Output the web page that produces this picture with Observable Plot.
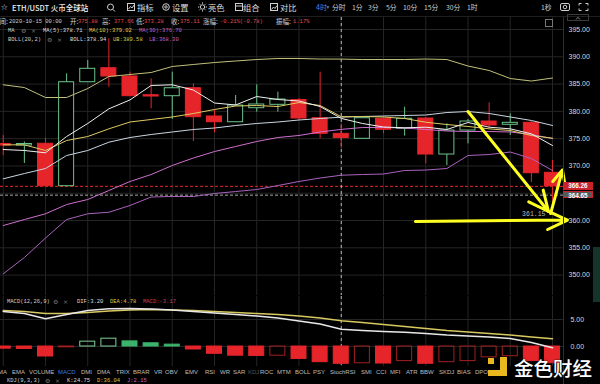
<!DOCTYPE html>
<html><head><meta charset="utf-8">
<script src="https://cdn.jsdelivr.net/npm/d3@7"></script>
<script src="https://cdn.jsdelivr.net/npm/@observablehq/plot@0.6"></script>
<style>
html,body{margin:0;padding:0;background:#000;}
#wrap{position:relative;width:600px;height:384px;overflow:hidden;background:#000;}
.t{position:absolute;white-space:nowrap;line-height:1;}
</style></head><body><div id="wrap"></div>
<script>
// ---- data (4h ETH/USDT candles) ----
const opens  = [374.02,373.74,374.06,366.29,385.34,387.91,386.39,382.96,382.78,384.24,379.06,378.01,380.58,381.20,382.08,378.75,375.88,374.97,378.64,376.80,378.69,372.09,376.49,378.14,377.54,377.90,368.74];
const highs  = [375.58,374.39,375.08,386.88,389.32,393.30,387.18,385.97,387.18,385.05,380.16,382.91,384.87,383.51,382.36,387.18,377.66,378.87,378.93,380.76,378.87,377.72,378.51,381.57,379.55,378.14,371.00];
const lows   = [371.91,370.45,366.23,366.29,385.34,384.43,382.72,380.47,378.51,374.48,376.07,378.01,379.85,379.85,378.33,374.97,373.28,374.84,375.89,375.45,370.39,370.08,374.06,376.80,375.58,366.96,361.15];
const closes = [373.74,374.02,366.29,385.34,387.80,386.39,382.78,382.72,384.24,378.93,378.01,381.07,381.26,382.17,378.69,375.89,375.11,378.75,376.62,378.64,372.09,376.49,378.14,377.41,377.90,368.67,366.26];
const ma5  = [373.01,372.83,372.41,375.39,377.78,380.47,382.10,384.74,384.87,383.91,381.53,381.17,382.72,382.17,381.90,380.89,378.71,377.78,377.13,376.99,377.10,376.68,377.96,377.10,376.80,375.89,373.74];
const ma10 = [373.87,373.87,372.83,374.66,375.39,376.80,378.05,378.51,378.97,379.61,380.34,380.98,381.07,380.89,381.62,381.07,379.02,379.06,378.97,378.69,378.01,377.59,377.23,376.80,376.49,375.58,375.08];
const ma30 = [359.08,360.18,361.23,362.93,363.85,365.50,367.15,368.43,370.08,371.45,372.64,373.56,374.48,375.21,375.58,376.22,376.70,377.04,377.04,376.95,376.68,376.40,376.31,376.31,376.22,375.76,375.03];
const bollMid   = [367.64,368.61,369.53,371.91,372.83,374.35,375.21,375.76,376.22,376.68,376.95,377.41,377.78,378.05,378.42,378.69,378.94,379.06,379.15,379.24,379.33,379.79,379.97,379.61,378.97,378.33,377.41];
const bollUpper = [384.87,384.37,382.54,382.54,384.19,386.39,386.75,387.12,388.22,388.59,388.95,389.23,389.50,389.69,389.69,389.59,389.58,389.50,389.50,389.50,389.59,389.50,388.31,387.49,386.02,385.56,386.11];
const bollLower = [350.23,353.22,356.79,360.18,361.23,361.52,362.75,364.31,364.40,364.40,364.95,365.31,365.68,366.41,367.15,367.79,368.30,368.43,368.52,369.16,369.25,369.53,371.91,372.09,372.55,371.36,369.16];
const dif = [6.48,6.11,5.13,5.93,6.67,6.98,7.04,6.94,6.76,6.48,6.20,5.93,5.65,5.28,4.72,4.17,3.20,2.96,2.78,2.65,2.41,2.13,1.94,1.76,1.48,0.74,-0.24];
const dea = [6.67,6.48,6.11,6.11,6.30,6.57,6.76,6.85,6.76,6.67,6.48,6.30,6.11,5.93,5.65,5.28,4.78,4.44,4.07,3.70,3.33,2.96,2.69,2.41,2.13,1.76,1.43];
const macdHist = [-0.40,-0.45,-1.85,-0.15,0.90,1.45,0.95,0.60,0.35,-0.55,-1.35,-1.70,-1.75,-1.70,-2.30,-2.90,-3.20,-3.10,-3.15,-2.70,-3.20,-2.90,-2.70,-2.00,-1.80,-2.70,-3.10];
const priceTicks = [350,355,360,365,370,375,380,385,390,395];
const macdTicks = [0,5];
const lastPrice = 366.26, crossPrice = 364.65, crossIndex = 16, lowMark = 361.15;
// annotation arrows (candle index, price)
const arrowFrom = [[22,379.97],[25.91,361.28],[19.51,359.82]];
const arrowTo   = [[25.81,361.65],[26.47,369.25],[26.71,360.09]];

// ---- style ----
const RED = "#e5252a", GREEN = "#6cc48a", GREEN2 = "#3cb36c", GRID = "#252525";
const MONO = '"Liberation Mono","DejaVu Sans Mono",monospace';
const SANS = '"Liberation Sans",Arial,sans-serif';
const CJK = '"Noto Sans CJK SC",sans-serif';
const wrap = document.getElementById("wrap");

const N = closes.length, idx = d3.range(N);
const half = 0.355;
const gridIdx = idx.filter(i => i % 2 === 0);
const candles = idx.map(i => ({i, open: opens[i], high: highs[i], low: lows[i], close: closes[i], up: closes[i] >= opens[i]}));
const xDomain = [-0.13, 26.52];
const svgStyle = top => ({position: "absolute", left: "0px", top: top + "px", background: "transparent", overflow: "visible", color: "#d8d8d8", fontSize: "7px", fontFamily: SANS, maxWidth: "none"});
// the axis label under the price tags is hidden by them in the reference
const labelTicks = priceTicks.filter(t => Math.abs(t - crossPrice) > 2);

const lineSpec = [[bollLower,"#a963bd"],[ma30,"#cf6fcf"],[bollUpper,"#c2c07a"],[bollMid,"#c9d6e2"],[ma10,"#e0cb62"],[ma5,"#f0f0f0"]];

const main = Plot.plot({
  width: 600, height: 278,
  marginTop: 0, marginBottom: 0, marginLeft: 0, marginRight: 37,
  style: svgStyle(17),
  color: {type: "identity"},
  x: {domain: xDomain, axis: null},
  y: {domain: [346.26, 397.2], axis: "right", ticks: labelTicks, tickFormat: d => d.toFixed(2), tickSize: 0, tickPadding: 5, label: null},
  marks: [
    Plot.ruleY(priceTicks, {stroke: GRID}),
    Plot.ruleX(gridIdx, {stroke: GRID}),
    Plot.ruleY([lastPrice], {stroke: RED, strokeDasharray: "3,2"}),
    Plot.ruleY([crossPrice], {stroke: "#aaa", strokeDasharray: "3,2"}),
    Plot.ruleX([crossIndex], {stroke: "#bbb", strokeDasharray: "3,3"}),
    Plot.ruleX(candles, {x: "i", y1: "low", y2: "high", stroke: d => d.up ? GREEN : RED}),
    Plot.rect(candles, {x1: d => d.i - half, x2: d => d.i + half, y1: "open", y2: "close",
      fill: d => d.up ? "#000" : RED, stroke: d => d.up ? GREEN : RED}),
    ...lineSpec.map(([arr, c]) => Plot.line(idx, {x: i => i, y: i => arr[i], stroke: c, strokeWidth: 1})),
    Plot.text([lowMark], {x: N - 1, y: d => d, text: d => d.toFixed(2), dx: -7, textAnchor: "end", fill: "#bbb", fontSize: 6.5, fontFamily: MONO}),
    Plot.arrow(d3.range(arrowFrom.length), {x1: k => arrowFrom[k][0], y1: k => arrowFrom[k][1], x2: k => arrowTo[k][0], y2: k => arrowTo[k][1],
      stroke: "#ffff22", strokeWidth: 3, headLength: 11, headAngle: 50})
  ]
});
wrap.appendChild(main);

const bars = idx.map(i => ({i, v: macdHist[i], filled: i === 0 || macdHist[i] < macdHist[i - 1]}));
const macd = Plot.plot({
  width: 600, height: 70,
  marginTop: 0, marginBottom: 0, marginLeft: 0, marginRight: 37,
  style: svgStyle(296),
  color: {type: "identity"},
  x: {domain: xDomain, axis: null},
  y: {domain: [-3.70, 9.26], axis: "right", ticks: macdTicks, tickFormat: d => d.toFixed(2), tickSize: 0, tickPadding: 7, label: null},
  marks: [
    Plot.ruleY(macdTicks, {stroke: GRID}),
    Plot.ruleX(gridIdx, {stroke: GRID}),
    Plot.ruleX([crossIndex], {stroke: "#bbb", strokeDasharray: "3,3"}),
    Plot.rect(bars, {x1: d => d.i - half, x2: d => d.i + half, y1: 0, y2: "v",
      fill: d => d.filled ? (d.v >= 0 ? GREEN2 : RED) : "none",
      stroke: d => d.v >= 0 ? (d.filled ? GREEN2 : "#7fcf98") : (d.filled ? RED : "#a32020")}),
    Plot.line(idx, {x: i => i, y: i => dea[i], stroke: "#d8c860"}),
    Plot.line(idx, {x: i => i, y: i => dif[i], stroke: "#e8e8e8"})
  ]
});
wrap.appendChild(macd);

// ---- text overlay ----
function put(x, cy, s, color, size, fam, extra) {
  const d = document.createElement("div");
  d.className = "t";
  d.textContent = s;
  Object.assign(d.style, {left: x + "px", top: (cy - size / 2) + "px", color, fontSize: size + "px", fontFamily: fam, height: size + "px"}, extra || {});
  wrap.appendChild(d);
  return d;
}
// toolbar icons
const ic = document.createElementNS("http://www.w3.org/2000/svg", "svg");
ic.setAttribute("width", 600); ic.setAttribute("height", 384);
ic.style.position = "absolute"; ic.style.left = "0"; ic.style.top = "0"; ic.style.pointerEvents = "none";
ic.innerHTML = `
<line x1="0" x2="600" y1="16.5" y2="16.5" stroke="#1e1e1e"/>
<line x1="563.5" x2="563.5" y1="17" y2="384" stroke="#2e2e2e"/>
<g fill="none" stroke="#cfcfcf" stroke-width="1">
<circle cx="110.5" cy="7" r="3"/><line x1="112.7" y1="9.2" x2="115" y2="11.5"/>
<rect x="127.5" y="3.5" width="7" height="7"/><polyline points="128.5,9 130.5,6.5 132,8 134,5"/>
<circle cx="166" cy="7" r="3.3"/><circle cx="166" cy="7" r="1.2"/>
<circle cx="202.5" cy="7" r="2.2"/>
<path d="M202.5 2.5v1.3M202.5 10.2v1.3M198 7h1.3M205.7 7h1.3M199.3 3.8l.9.9M204.8 9.3l.9.9M199.3 10.2l.9-.9M204.8 4.7l.9-.9"/>
<rect x="235.5" y="3.5" width="7" height="7"/><line x1="235.5" y1="6" x2="242.5" y2="6"/>
<rect x="270.5" y="3.5" width="7" height="7"/><polyline points="271.5,9.5 273.5,7 275,8.5 277,5.5"/>
<rect x="560.5" y="3.5" width="9" height="7" rx="1.5"/><circle cx="565" cy="7" r="1.8"/>
<path d="M579 5.5V3.5h2.5M585.5 3.5H588v2M588 8.5v2h-2.5M581.5 10.5H579v-2"/>
<rect x="545.5" y="19.5" width="7" height="7" stroke="#777"/>
<rect x="567.5" y="14.5" width="21" height="6" stroke="#3a3a3a"/>
</g>
<path d="M576 19.5l2-2.2 2 2.2" fill="none" stroke="#aaa" stroke-width="0.8"/>
<g fill="#e9b81f"><rect x="488" y="358" width="6" height="6"/><rect x="500" y="357" width="7" height="19"/><rect x="488" y="370" width="19" height="6"/></g>
<rect x="593" y="247" width="7" height="55" fill="#14352a"/>
`;
wrap.appendChild(ic);

put(0.5, 7.5, "☆", "#ddd", 8.5, '"DejaVu Sans",sans-serif');
put(12, 7.5, "ETH/USDT 火币全球站", "#f0f0f0", 7.5, CJK, {fontWeight: "500"});
[["指标",137],["设置",172],["亮色",208],["组合",243],["对比",280]].forEach(([s, x]) => put(x, 7.5, s, "#ddd", 8.3, CJK));
put(316, 7.5, "4时", "#4a80e8", 7, CJK);
put(326.5, 7.3, "▾", "#4a80e8", 5.5, '"DejaVu Sans",sans-serif');
[["分时",332],["1分",352],["3分",368],["5分",386],["10分",403],["15分",424],["30分",446],["1时",467],["1秒",541]].forEach(([s, x]) => put(x, 7.5, s, "#cfcfcf", 6.8, CJK));

const VAL = "#e5484a", LBL = "#cfcfcf";
put(-7, 21.5, "时间:", LBL, 6.5, CJK);
put(9, 21.5, "2020-10-15 00:00", LBL, 5.5, MONO);
[["开:",70,"375.88",78],["高:",102,"377.66",114],["低:",136,"373.28",144],["收:",171,"375.11",180],["涨幅:",203,"-0.21%(-0.78)",220],["振幅:",276,"1.17%",293]]
  .forEach(([l, x, v, vx]) => { put(x, 21.5, l, LBL, 6.5, CJK); put(vx, 21.5, v, VAL, 5.5, MONO); });

const gear = (x, cy) => { put(x, cy, "⚙", "#777", 6, '"DejaVu Sans",sans-serif'); put(x + 10, cy, "×", "#777", 6, '"DejaVu Sans",sans-serif'); };
put(8, 31, "MA", LBL, 5.5, MONO); gear(21, 31);
put(43, 31, "MA(5):378.71", "#dedede", 5.5, MONO);
put(89, 31, "MA(10):379.02", "#e0c640", 5.5, MONO);
put(139, 31, "MA(30):376.70", "#c462c4", 5.5, MONO);
put(8, 40, "BOLL(20,2)", LBL, 5.5, MONO); gear(47, 40);
put(70, 40, "BOLL:378.94", "#dedede", 5.5, MONO);
put(113, 40, "UB:389.58", "#d8c848", 5.5, MONO);
put(149, 40, "LB:368.30", "#c462c4", 5.5, MONO);

put(7, 302, "MACD(12,26,9)", LBL, 5.5, MONO); gear(53, 302);
put(77, 302, "DIF:3.20", "#dedede", 5.5, MONO);
put(110, 302, "DEA:4.78", "#d8c848", 5.5, MONO);
put(143, 302, "MACD:-3.17", "#c0405e", 5.5, MONO);

[["MA",-2],["EMA",12],["VOLUME",29],["MACD",58],["DMI",81],["DMA",97],["TRIX",116],["BRAR",133],["VR",154],["OBV",165],["EMV",185],["RSI",205],["WR",220],["SAR",233],["KDJ",248],["ROC",260],["MTM",277],["BOLL",295],["PSY",313],["StochRSI",330],["SMI",361],["CCI",376],["MFI",390],["ATR",406],["BBW",420],["SKDJ",439],["BIAS",457],["DPO",475]]
  .forEach(([s, x]) => put(x, 372, s, s === "MACD" ? "#3b78e7" : s === "KDJ" ? "#555" : "#bdbdbd", 6, SANS));

put(7, 381, "KDJ(9,3,3)", LBL, 5.5, MONO); gear(45, 381);
put(67, 381, "K:24.75", "#dedede", 5.5, MONO);
put(97, 381, "D:36.04", "#d8c848", 5.5, MONO);
put(127, 381, "J:2.15", "#c462c4", 5.5, MONO);

// price tags on the right axis, placed with the plot's y scale
const ys = main.scale("y");
const yOf = v => (ys.apply ? ys.apply(v) : 0) + 17;
const tag = (v, bg, border) => put(563, yOf(v), v.toFixed(2), "#fff", 6.3, SANS, {background: bg, width: "30px", height: "7.5px", lineHeight: "7.5px", top: (yOf(v) - 3.75) + "px", textAlign: "center", fontWeight: "bold", boxSizing: "border-box", border: border || "none"});
tag(lastPrice, "#c8232a");
tag(crossPrice, "#5a5a5a", "1px solid #c8232a");

// watermark
put(514, 367.5, "金色财经", "#ffffff", 19.5, CJK, {fontWeight: "500", textShadow: "0 0 2px #000"});
</script></body></html>
